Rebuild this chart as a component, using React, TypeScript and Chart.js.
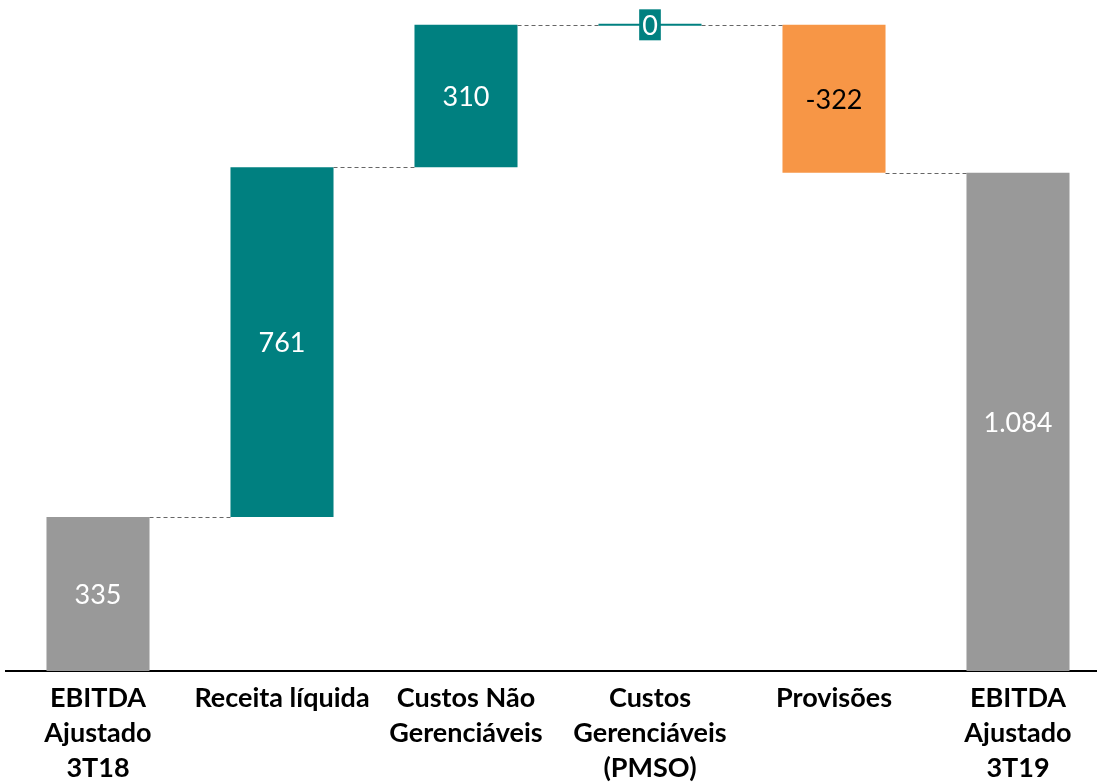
import React, { useEffect, useRef } from "react";
import { Chart, registerables } from "chart.js";

Chart.register(...registerables);

const categories: (string | string[])[] = [
  ["EBITDA", "Ajustado", "3T18"],
  "Receita líquida",
  ["Custos Não", "Gerenciáveis"],
  ["Custos", "Gerenciáveis", "(PMSO)"],
  "Provisões",
  ["EBITDA", "Ajustado", "3T19"],
];
const values = [335, 761, 310, 0, -322, 1084];
const isTotal = [true, false, false, false, false, true];
const barColors = ["#999999", "#008080", "#008080", "#008080", "#F79646", "#999999"];
const labelColors = ["#ffffff", "#ffffff", "#ffffff", "#ffffff", "#000000", "#ffffff"];

function fmt(v: number): string {
  const s = Math.abs(v).toString().replace(/\B(?=(\d{3})+(?!\d))/g, ".");
  return (v < 0 ? "-" : "") + s;
}

function buildRanges(): [number, number][] {
  let run = 0;
  return values.map((v, i) => {
    if (isTotal[i]) {
      run = v;
      return [0, v] as [number, number];
    }
    const start = run;
    run = run + v;
    return [start, run] as [number, number];
  });
}

const FONT = "Lato, 'Open Sans', sans-serif";

const waterfallPlugin = {
  id: "waterfallExtras",
  afterDatasetsDraw(chart: any) {
    const ctx = chart.ctx;
    const meta = chart.getDatasetMeta(0);
    const yScale = chart.scales.y;
    const ranges = chart.data.datasets[0].data as [number, number][];
    ctx.save();
    // connectors
    ctx.strokeStyle = "#666666";
    ctx.lineWidth = 1;
    ctx.setLineDash([4, 3]);
    for (let i = 0; i < ranges.length - 1; i++) {
      const a = meta.data[i];
      const b = meta.data[i + 1];
      const y = Math.round(yScale.getPixelForValue(ranges[i][1])) + 0.5;
      ctx.beginPath();
      ctx.moveTo(a.x + a.width / 2, y);
      ctx.lineTo(b.x - b.width / 2, y);
      ctx.stroke();
    }
    ctx.setLineDash([]);
    // zero-height bars as line
    for (let i = 0; i < ranges.length; i++) {
      if (ranges[i][0] === ranges[i][1]) {
        const el = meta.data[i];
        const y = yScale.getPixelForValue(ranges[i][1]);
        ctx.strokeStyle = barColors[i];
        ctx.lineWidth = 2;
        ctx.beginPath();
        ctx.moveTo(el.x - el.width / 2, y);
        ctx.lineTo(el.x + el.width / 2, y);
        ctx.stroke();
      }
    }
    // labels
    ctx.font = `27px ${FONT}`;
    ctx.textAlign = "center";
    ctx.textBaseline = "middle";
    for (let i = 0; i < ranges.length; i++) {
      const el = meta.data[i];
      const y = (yScale.getPixelForValue(ranges[i][0]) + yScale.getPixelForValue(ranges[i][1])) / 2;
      const text = fmt(values[i]);
      if (ranges[i][0] === ranges[i][1]) {
        const w = ctx.measureText(text).width + 6;
        ctx.fillStyle = barColors[i];
        ctx.fillRect(el.x - w / 2, y - 15.5, w, 31);
      }
      ctx.fillStyle = labelColors[i];
      ctx.fillText(text, el.x, y + 1);
    }
    ctx.restore();
  },
};

export default function App() {
  const ref = useRef<HTMLCanvasElement | null>(null);
  useEffect(() => {
    document.body.style.margin = "0";
    document.body.style.overflow = "hidden";
    const ranges = buildRanges();
    const chart = new Chart(ref.current as HTMLCanvasElement, {
      type: "bar",
      data: {
        labels: categories,
        datasets: [
          {
            data: ranges as any,
            backgroundColor: barColors,
            borderWidth: 0,
            barPercentage: 0.56,
            categoryPercentage: 1,
          },
        ],
      },
      plugins: [waterfallPlugin],
      options: {
        animation: false,
        responsive: false,
        maintainAspectRatio: false,
        layout: { padding: { left: 6, right: 0, top: 0, bottom: 0 } },
        plugins: { legend: { display: false }, tooltip: { enabled: false } },
        scales: {
          x: {
            grid: { display: false, drawTicks: false },
            border: { display: true, color: "#000000", width: 2 },
            ticks: {
              color: "#000000",
              font: { family: FONT, size: 27, weight: "bold", lineHeight: 1.3 },
              padding: 10,
              maxRotation: 0,
              autoSkip: false,
            },
            afterFit: (scale: any) => {
              scale.height = 112;
            },
          },
          y: {
            display: false,
            min: 0,
            max: 1460,
          },
        },
      },
    });
    return () => chart.destroy();
  }, []);
  return (
    <div style={{ position: "absolute", left: 0, top: 0, width: 1110, height: 783 }}>
      <canvas ref={ref} width={1110} height={783} style={{ width: 1110, height: 783 }} />
    </div>
  );
}
